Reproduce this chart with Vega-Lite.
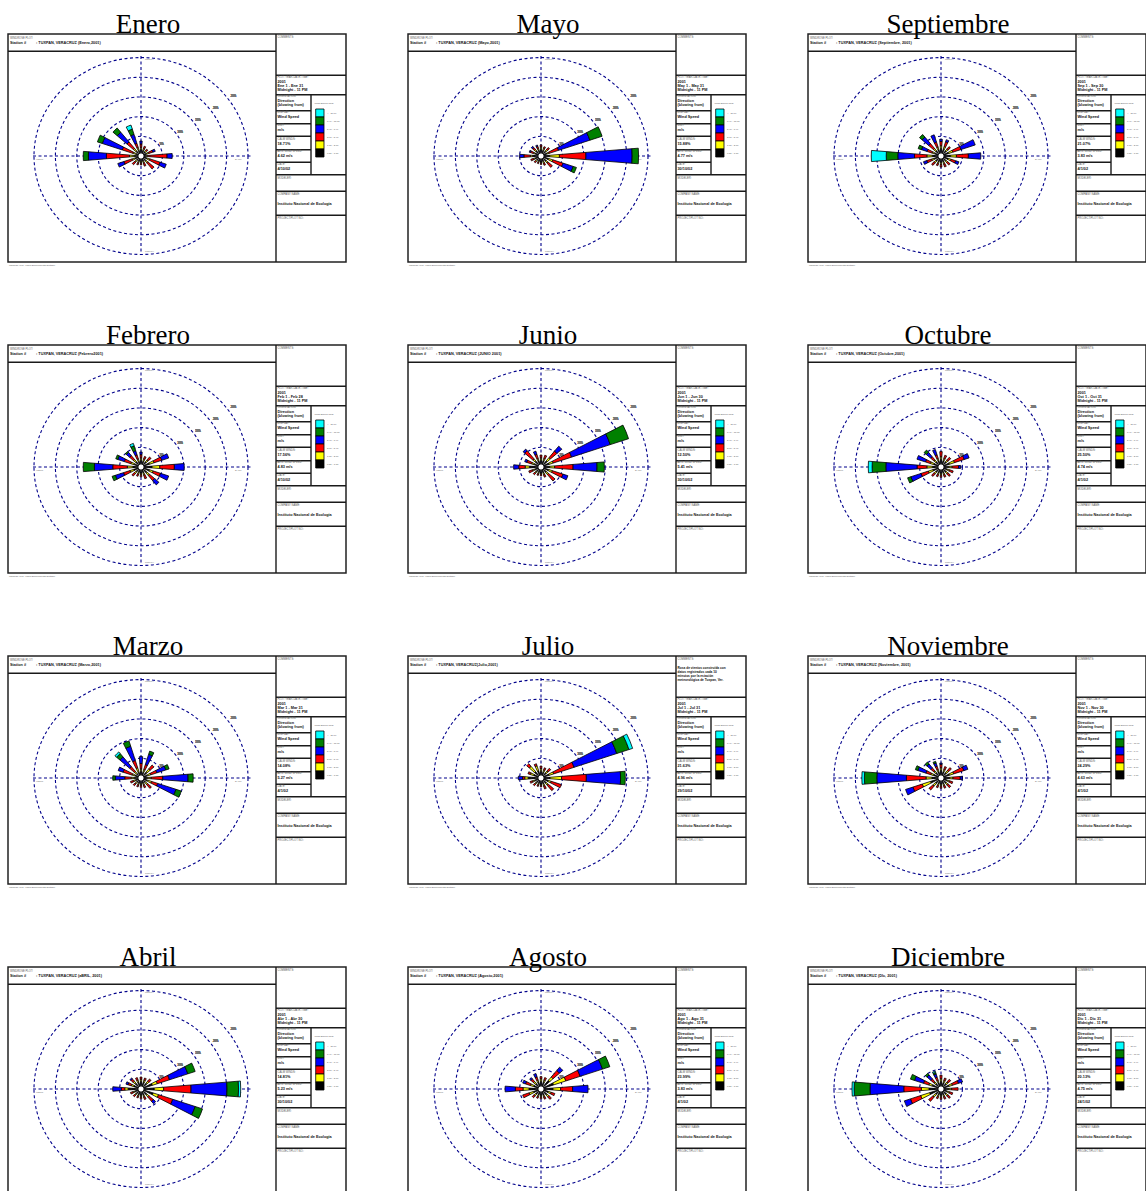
{
"$schema":"https://vega.github.io/schema/vega-lite/v6.json",
"padding":0,
"background":"white",
"bounds":"flush",
"data":{"values":[
{"k":"i","m":1,"t":"Enero","h":": TUXPAN, VERACRUZ (Enero,2001)","dr":"Ene 1 - Ene 31","cw":"18.71%","av":"4.62 m/s","dt":"4/10/02","cm":"","rings":[5,10,15,20,25]},
{"k":"i","m":2,"t":"Febrero","h":": TUXPAN, VERACRUZ (Febrero2001)","dr":"Feb 1 - Feb 28","cw":"17.56%","av":"4.83 m/s","dt":"4/10/02","cm":"","rings":[5,10,15,20,25]},
{"k":"i","m":3,"t":"Marzo","h":": TUXPAN, VERACRUZ (Marzo,2001)","dr":"Mar 1 - Mar 31","cw":"14.08%","av":"5.27 m/s","dt":"4/1/02","cm":"","rings":[5,10,15,20,25]},
{"k":"i","m":4,"t":"Abril","h":": TUXPAN, VERACRUZ (aBRIL, 2001)","dr":"Abr 1 - Abr 30","cw":"14.81%","av":"5.23 m/s","dt":"30/10/02","cm":"","rings":[5,10,15,20,25]},
{"k":"i","m":5,"t":"Mayo","h":": TUXPAN, VERACRUZ (Mayo,2001)","dr":"May 1 - May 31","cw":"15.88%","av":"4.77 m/s","dt":"30/10/02","cm":"","rings":[5,10,15,20,25]},
{"k":"i","m":6,"t":"Junio","h":": TUXPAN, VERACRUZ (JUNIO 2001)","dr":"Jun 1 - Jun 30","cw":"12.50%","av":"5.41 m/s","dt":"30/10/02","cm":"","rings":[5,10,15,20,25]},
{"k":"i","m":7,"t":"Julio","h":": TUXPAN, VERACRUZ(Julio,2001)","dr":"Jul 1 - Jul 31","cw":"21.63%","av":"4.96 m/s","dt":"29/10/02","cm":["Rosa de vientos construída con","datos registrados cada 10","minutos por la estación","meteorológica de Tuxpan, Ver."],"rings":[5,10,15,20,25]},
{"k":"i","m":8,"t":"Agosto","h":": TUXPAN, VERACRUZ (Agosto,2001)","dr":"Ago 1 - Ago 31","cw":"23.99%","av":"3.83 m/s","dt":"4/1/02","cm":"","rings":[5,10,15,20,25]},
{"k":"i","m":9,"t":"Septiembre","h":": TUXPAN, VERACRUZ (Septiembre, 2001)","dr":"Sep 1 - Sep 30","cw":"21.07%","av":"3.83 m/s","dt":"4/1/02","cm":"","rings":[5,10,15,20,25]},
{"k":"i","m":10,"t":"Octubre","h":": TUXPAN, VERACRUZ (Octubre,2001)","dr":"Oct 1 - Oct 31","cw":"25.50%","av":"4.74 m/s","dt":"4/1/02","cm":"","rings":[5,10,15,20,25]},
{"k":"i","m":11,"t":"Noviembre","h":": TUXPAN, VERACRUZ (Noviembre, 2001)","dr":"Nov 1 - Nov 30","cw":"24.29%","av":"4.63 m/s","dt":"4/1/02","cm":"","rings":[5,10,15,20,25]},
{"k":"i","m":12,"t":"Diciembre","h":": TUXPAN, VERACRUZ (DIc, 2001)","dr":"Dic 1 - Dic 31","cw":"20.13%","av":"4.75 m/s","dt":"24/1/02","cm":"","rings":[5,10,15,20,25]},

{"k":"p","m":1,"d":0,"v":[1.5,0.5,0.8,0.7],"c":[1,2,3,4]},
{"k":"p","m":1,"d":22.5,"v":[1.4,0.4,0.6],"c":[1,2,3]},
{"k":"p","m":1,"d":45,"v":[1.3,0.4,0.4],"c":[1,2,3]},
{"k":"p","m":1,"d":67.5,"v":[1.4,0.5,1.0,0.6],"c":[1,2,3,4]},
{"k":"p","m":1,"d":90,"v":[1.0,0.5,4.6,1.2],"c":[1,2,3,4]},
{"k":"p","m":1,"d":112.5,"v":[1.5,0.7,2.5,1.5],"c":[1,2,3,4]},
{"k":"p","m":1,"d":135,"v":[1.5,0.6,1.9],"c":[1,2,3]},
{"k":"p","m":1,"d":157.5,"v":[1.3,0.4,0.8],"c":[1,2,3]},
{"k":"p","m":1,"d":180,"v":[1.3,0.4,0.4],"c":[1,2,3]},
{"k":"p","m":1,"d":202.5,"v":[1.3,0.4,0.5],"c":[1,2,3]},
{"k":"p","m":1,"d":225,"v":[1.4,0.5,0.8],"c":[1,2,3]},
{"k":"p","m":1,"d":247.5,"v":[1.5,0.7,2.0,1.5],"c":[1,2,3,4]},
{"k":"p","m":1,"d":270,"v":[1.5,1.2,5.4,4.2,1.2],"c":[1,2,3,4,5]},
{"k":"p","m":1,"d":292.5,"v":[1.2,0.8,2.6,4.9,1.2],"c":[1,2,3,4,5]},
{"k":"p","m":1,"d":315,"v":[1.5,0.8,2.0,3.0,1.3],"c":[1,2,3,4,5]},
{"k":"p","m":1,"d":337.5,"v":[1.5,0.6,1.0,2.2,1.3,1.0],"c":[1,2,3,4,5,6]},

{"k":"p","m":2,"d":0,"v":[1.6,0.5,0.8,0.6],"c":[1,2,3,4]},
{"k":"p","m":2,"d":22.5,"v":[1.5,0.5,0.6],"c":[1,2,3]},
{"k":"p","m":2,"d":45,"v":[1.6,0.6,0.9],"c":[1,2,3]},
{"k":"p","m":2,"d":67.5,"v":[2.1,1.1,1.9,1.7],"c":[1,2,3,4]},
{"k":"p","m":2,"d":90,"v":[2.6,1.8,3.4,2.3],"c":[1,2,3,4]},
{"k":"p","m":2,"d":112.5,"v":[2.1,0.9,1.8,2.0],"c":[1,2,3,4]},
{"k":"p","m":2,"d":135,"v":[1.8,0.8,1.6,1.3],"c":[1,2,3,4]},
{"k":"p","m":2,"d":157.5,"v":[1.5,0.5,0.9],"c":[1,2,3]},
{"k":"p","m":2,"d":180,"v":[1.4,0.4,0.5],"c":[1,2,3]},
{"k":"p","m":2,"d":202.5,"v":[1.4,0.4,0.5],"c":[1,2,3]},
{"k":"p","m":2,"d":225,"v":[1.5,0.5,0.8],"c":[1,2,3]},
{"k":"p","m":2,"d":247.5,"v":[1.8,0.9,1.6,2.0,0.8],"c":[1,2,3,4,5]},
{"k":"p","m":2,"d":270,"v":[1.9,1.3,3.4,4.3,2.6],"c":[1,2,3,4,5]},
{"k":"p","m":2,"d":292.5,"v":[1.7,0.8,1.6,1.6,0.5],"c":[1,2,3,4,5]},
{"k":"p","m":2,"d":315,"v":[1.6,0.7,1.2,1.0,0.3],"c":[1,2,3,4,5]},
{"k":"p","m":2,"d":337.5,"v":[1.4,0.6,1.0,1.0,1.2,0.6],"c":[1,2,3,4,5,6]},

{"k":"p","m":3,"d":0,"v":[1.5,0.6,1.3,1.6],"c":[1,2,3,4]},
{"k":"p","m":3,"d":22.5,"v":[1.5,0.6,1.2,2.5,0.8],"c":[1,2,3,4,5]},
{"k":"p","m":3,"d":45,"v":[1.8,1.0,1.2],"c":[1,2,3]},
{"k":"p","m":3,"d":67.5,"v":[1.6,0.8,1.5,2.2,0.8],"c":[1,2,3,4,5]},
{"k":"p","m":3,"d":90,"v":[1.5,0.9,2.7,5.9,1.2],"c":[1,2,3,4,5]},
{"k":"p","m":3,"d":112.5,"v":[1.6,1.0,1.5,4.5,1.3],"c":[1,2,3,4,5]},
{"k":"p","m":3,"d":135,"v":[1.4,0.6,1.2],"c":[1,2,3]},
{"k":"p","m":3,"d":157.5,"v":[1.3,0.4,0.7],"c":[1,2,3]},
{"k":"p","m":3,"d":180,"v":[1.3,0.4,0.5],"c":[1,2,3]},
{"k":"p","m":3,"d":202.5,"v":[1.3,0.4,0.5],"c":[1,2,3]},
{"k":"p","m":3,"d":225,"v":[1.4,0.4,0.6],"c":[1,2,3]},
{"k":"p","m":3,"d":247.5,"v":[1.4,0.5,0.7],"c":[1,2,3]},
{"k":"p","m":3,"d":270,"v":[1.5,0.8,1.5,2.2,0.6],"c":[1,2,3,4,5]},
{"k":"p","m":3,"d":292.5,"v":[1.5,0.7,2.2,1.2],"c":[1,2,3,4]},
{"k":"p","m":3,"d":315,"v":[1.4,0.6,1.5,3.0,1.0,0.5],"c":[1,2,3,4,5,6]},
{"k":"p","m":3,"d":337.5,"v":[1.5,1.0,1.8,3.5,1.3],"c":[1,2,3,4,5]},

{"k":"p","m":4,"d":0,"v":[1.8,0.5,0.5],"c":[1,2,3]},
{"k":"p","m":4,"d":22.5,"v":[1.7,0.5,0.5],"c":[1,2,3]},
{"k":"p","m":4,"d":45,"v":[1.8,0.6,0.7],"c":[1,2,3]},
{"k":"p","m":4,"d":67.5,"v":[2.8,1.2,3.0,4.5,1.8],"c":[1,2,3,4,5]},
{"k":"p","m":4,"d":90,"v":[3.1,2.2,6.4,8.4,2.7,0.5],"c":[1,2,3,4,5,6]},
{"k":"p","m":4,"d":112.5,"v":[3.0,1.3,3.5,5.5,1.8],"c":[1,2,3,4,5]},
{"k":"p","m":4,"d":135,"v":[1.8,0.6,1.4,0.7],"c":[1,2,3,4]},
{"k":"p","m":4,"d":157.5,"v":[1.6,0.4,0.6],"c":[1,2,3]},
{"k":"p","m":4,"d":180,"v":[1.5,0.4,0.4],"c":[1,2,3]},
{"k":"p","m":4,"d":202.5,"v":[1.5,0.3,0.4],"c":[1,2,3]},
{"k":"p","m":4,"d":225,"v":[1.5,0.4,0.5],"c":[1,2,3]},
{"k":"p","m":4,"d":247.5,"v":[1.6,0.4,0.6],"c":[1,2,3]},
{"k":"p","m":4,"d":270,"v":[3.0,0.8,0.8,2.0],"c":[1,2,3,4]},
{"k":"p","m":4,"d":292.5,"v":[1.8,0.6,0.8,0.5],"c":[1,2,3,4]},
{"k":"p","m":4,"d":315,"v":[1.8,0.6,0.7,0.3],"c":[1,2,3,4]},
{"k":"p","m":4,"d":337.5,"v":[1.7,0.5,0.6],"c":[1,2,3]},

{"k":"p","m":5,"d":0,"v":[1.6,0.5,0.5],"c":[1,2,3]},
{"k":"p","m":5,"d":22.5,"v":[1.5,0.4,0.4],"c":[1,2,3]},
{"k":"p","m":5,"d":45,"v":[1.5,0.5,0.6],"c":[1,2,3]},
{"k":"p","m":5,"d":67.5,"v":[1.5,0.5,2.3,7.7,3.0],"c":[1,2,3,4,5]},
{"k":"p","m":5,"d":90,"v":[2.0,2.3,6.2,10.8,1.5],"c":[1,2,3,4,5]},
{"k":"p","m":5,"d":112.5,"v":[1.9,1.0,2.5,2.5,0.8],"c":[1,2,3,4,5]},
{"k":"p","m":5,"d":135,"v":[1.6,0.6,1.3],"c":[1,2,3]},
{"k":"p","m":5,"d":157.5,"v":[1.4,0.4,0.5],"c":[1,2,3]},
{"k":"p","m":5,"d":180,"v":[1.4,0.3,0.3],"c":[1,2,3]},
{"k":"p","m":5,"d":202.5,"v":[1.3,0.3,0.3],"c":[1,2,3]},
{"k":"p","m":5,"d":225,"v":[1.4,0.3,0.4],"c":[1,2,3]},
{"k":"p","m":5,"d":247.5,"v":[1.5,0.4,0.6],"c":[1,2,3]},
{"k":"p","m":5,"d":270,"v":[2.0,0.5,1.5,1.0],"c":[1,2,3,4]},
{"k":"p","m":5,"d":292.5,"v":[1.5,0.4,0.7,0.3],"c":[1,2,3,4]},
{"k":"p","m":5,"d":315,"v":[1.6,0.4,0.6,0.4],"c":[1,2,3,4]},
{"k":"p","m":5,"d":337.5,"v":[1.5,0.4,0.5,0.3],"c":[1,2,3,4]},

{"k":"p","m":6,"d":0,"v":[1.6,0.5,0.7],"c":[1,2,3]},
{"k":"p","m":6,"d":22.5,"v":[1.6,0.5,0.8],"c":[1,2,3]},
{"k":"p","m":6,"d":45,"v":[1.9,1.0,2.0,1.5],"c":[1,2,3,4]},
{"k":"p","m":6,"d":67.5,"v":[2.0,1.0,4.5,9.5,4.5],"c":[1,2,3,4,5]},
{"k":"p","m":6,"d":90,"v":[2.0,1.2,4.3,5.6,1.7],"c":[1,2,3,4,5]},
{"k":"p","m":6,"d":112.5,"v":[1.9,0.9,2.6,1.2],"c":[1,2,3,4]},
{"k":"p","m":6,"d":135,"v":[1.7,0.6,2.0],"c":[1,2,3]},
{"k":"p","m":6,"d":157.5,"v":[1.5,0.4,0.6],"c":[1,2,3]},
{"k":"p","m":6,"d":180,"v":[1.4,0.3,0.4],"c":[1,2,3]},
{"k":"p","m":6,"d":202.5,"v":[1.4,0.3,0.4],"c":[1,2,3]},
{"k":"p","m":6,"d":225,"v":[1.5,0.4,0.5],"c":[1,2,3]},
{"k":"p","m":6,"d":247.5,"v":[1.6,0.5,0.9],"c":[1,2,3]},
{"k":"p","m":6,"d":270,"v":[2.7,1.0,1.5,1.2],"c":[1,2,3,4]},
{"k":"p","m":6,"d":292.5,"v":[1.7,0.6,1.2,0.5],"c":[1,2,3,4]},
{"k":"p","m":6,"d":315,"v":[1.8,0.7,2.5,0.5],"c":[1,2,3,4]},
{"k":"p","m":6,"d":337.5,"v":[1.6,0.5,1.0,0.8],"c":[1,2,3,4]},

{"k":"p","m":7,"d":0,"v":[1.6,0.6,0.6],"c":[1,2,3]},
{"k":"p","m":7,"d":22.5,"v":[1.5,0.5,0.5],"c":[1,2,3]},
{"k":"p","m":7,"d":45,"v":[1.6,0.6,0.8],"c":[1,2,3]},
{"k":"p","m":7,"d":67.5,"v":[2.0,1.1,5.0,10.5,3.0,0.9],"c":[1,2,3,4,5,6]},
{"k":"p","m":7,"d":90,"v":[2.1,2.7,5.8,8.0,1.1],"c":[1,2,3,4,5]},
{"k":"p","m":7,"d":112.5,"v":[1.8,0.7,2.5],"c":[1,2,3]},
{"k":"p","m":7,"d":135,"v":[1.6,0.6,1.7],"c":[1,2,3]},
{"k":"p","m":7,"d":157.5,"v":[1.5,0.5,0.7],"c":[1,2,3]},
{"k":"p","m":7,"d":180,"v":[1.4,0.3,0.4],"c":[1,2,3]},
{"k":"p","m":7,"d":202.5,"v":[1.4,0.3,0.4],"c":[1,2,3]},
{"k":"p","m":7,"d":225,"v":[1.5,0.4,0.5],"c":[1,2,3]},
{"k":"p","m":7,"d":247.5,"v":[1.6,0.5,0.6],"c":[1,2,3]},
{"k":"p","m":7,"d":270,"v":[3.0,0.8,0.5,1.0],"c":[1,2,3,4]},
{"k":"p","m":7,"d":292.5,"v":[1.8,0.8,0.6],"c":[1,2,3]},
{"k":"p","m":7,"d":315,"v":[2.0,1.6,0.8],"c":[1,2,3]},
{"k":"p","m":7,"d":337.5,"v":[1.8,1.2,0.5],"c":[1,2,3]},

{"k":"p","m":8,"d":0,"v":[1.8,0.6,0.5],"c":[1,2,3]},
{"k":"p","m":8,"d":22.5,"v":[1.7,0.5,0.6],"c":[1,2,3]},
{"k":"p","m":8,"d":45,"v":[2.7,1.0,2.0,1.0],"c":[1,2,3,4]},
{"k":"p","m":8,"d":67.5,"v":[3.1,3.0,3.5,5.5,1.8],"c":[1,2,3,4,5]},
{"k":"p","m":8,"d":90,"v":[2.8,1.8,2.8,3.6],"c":[1,2,3,4]},
{"k":"p","m":8,"d":112.5,"v":[1.8,0.7,0.9],"c":[1,2,3]},
{"k":"p","m":8,"d":135,"v":[1.8,0.6,0.8],"c":[1,2,3]},
{"k":"p","m":8,"d":157.5,"v":[1.6,0.4,0.5],"c":[1,2,3]},
{"k":"p","m":8,"d":180,"v":[1.5,0.4,0.4],"c":[1,2,3]},
{"k":"p","m":8,"d":202.5,"v":[1.5,0.4,0.4],"c":[1,2,3]},
{"k":"p","m":8,"d":225,"v":[1.6,0.5,0.6],"c":[1,2,3]},
{"k":"p","m":8,"d":247.5,"v":[1.9,1.0,1.6],"c":[1,2,3]},
{"k":"p","m":8,"d":270,"v":[2.8,1.4,1.8,2.4],"c":[1,2,3,4]},
{"k":"p","m":8,"d":292.5,"v":[1.8,0.8,1.2,0.7],"c":[1,2,3,4]},
{"k":"p","m":8,"d":315,"v":[1.7,0.6,0.8,0.4],"c":[1,2,3,4]},
{"k":"p","m":8,"d":337.5,"v":[1.7,0.5,0.8,0.8],"c":[1,2,3,4]},

{"k":"p","m":9,"d":0,"v":[1.8,0.6,1.0,0.5],"c":[1,2,3,4]},
{"k":"p","m":9,"d":22.5,"v":[1.7,0.6,1.2,0.5],"c":[1,2,3,4]},
{"k":"p","m":9,"d":45,"v":[1.6,0.5,0.8],"c":[1,2,3]},
{"k":"p","m":9,"d":67.5,"v":[1.9,1.0,2.0,3.5],"c":[1,2,3,4]},
{"k":"p","m":9,"d":90,"v":[2.2,1.4,2.8,2.9],"c":[1,2,3,4]},
{"k":"p","m":9,"d":112.5,"v":[1.8,0.7,1.1,0.8],"c":[1,2,3,4]},
{"k":"p","m":9,"d":135,"v":[1.5,0.5,0.8],"c":[1,2,3]},
{"k":"p","m":9,"d":157.5,"v":[1.5,0.5,0.7],"c":[1,2,3]},
{"k":"p","m":9,"d":180,"v":[1.5,0.5,0.6],"c":[1,2,3]},
{"k":"p","m":9,"d":202.5,"v":[1.5,0.4,0.5],"c":[1,2,3]},
{"k":"p","m":9,"d":225,"v":[1.6,0.5,0.8],"c":[1,2,3]},
{"k":"p","m":9,"d":247.5,"v":[1.7,0.6,1.2,0.8],"c":[1,2,3,4]},
{"k":"p","m":9,"d":270,"v":[2.0,1.3,2.9,3.9,2.7,3.5],"c":[1,2,3,4,5,6]},
{"k":"p","m":9,"d":292.5,"v":[1.6,0.6,1.2,1.4,0.8],"c":[1,2,3,4,5]},
{"k":"p","m":9,"d":315,"v":[1.6,0.7,1.5,2.0,0.8],"c":[1,2,3,4,5]},
{"k":"p","m":9,"d":337.5,"v":[1.6,0.6,1.2,1.8],"c":[1,2,3,4]},

{"k":"p","m":10,"d":0,"v":[1.8,0.6,1.2],"c":[1,2,3]},
{"k":"p","m":10,"d":22.5,"v":[1.6,0.5,0.8],"c":[1,2,3]},
{"k":"p","m":10,"d":45,"v":[1.6,0.5,0.9],"c":[1,2,3]},
{"k":"p","m":10,"d":67.5,"v":[2.1,1.2,2.4,1.2],"c":[1,2,3,4]},
{"k":"p","m":10,"d":90,"v":[1.8,0.8,1.5,0.5],"c":[1,2,3,4]},
{"k":"p","m":10,"d":112.5,"v":[1.6,0.5,0.9],"c":[1,2,3]},
{"k":"p","m":10,"d":135,"v":[1.6,0.5,0.8],"c":[1,2,3]},
{"k":"p","m":10,"d":157.5,"v":[1.5,0.4,0.6],"c":[1,2,3]},
{"k":"p","m":10,"d":180,"v":[1.5,0.4,0.5],"c":[1,2,3]},
{"k":"p","m":10,"d":202.5,"v":[1.5,0.4,0.5],"c":[1,2,3]},
{"k":"p","m":10,"d":225,"v":[1.6,0.5,0.8],"c":[1,2,3]},
{"k":"p","m":10,"d":247.5,"v":[2.0,1.1,1.8,2.5,0.8],"c":[1,2,3,4,5]},
{"k":"p","m":10,"d":270,"v":[2.0,1.3,2.3,7.3,3.2,0.9],"c":[1,2,3,4,5,6]},
{"k":"p","m":10,"d":292.5,"v":[1.8,0.8,1.2,2.1],"c":[1,2,3,4]},
{"k":"p","m":10,"d":315,"v":[1.6,0.6,1.0,1.3,0.7],"c":[1,2,3,4,5]},
{"k":"p","m":10,"d":337.5,"v":[1.6,0.5,0.9,1.3],"c":[1,2,3,4]},

{"k":"p","m":11,"d":0,"v":[1.8,0.6,0.8,0.3],"c":[1,2,3,4]},
{"k":"p","m":11,"d":22.5,"v":[1.6,0.5,0.7],"c":[1,2,3]},
{"k":"p","m":11,"d":45,"v":[1.7,0.6,0.9],"c":[1,2,3]},
{"k":"p","m":11,"d":67.5,"v":[2.1,1.0,2.5,1.0],"c":[1,2,3,4]},
{"k":"p","m":11,"d":90,"v":[2.0,0.8,1.7,0.5],"c":[1,2,3,4]},
{"k":"p","m":11,"d":112.5,"v":[1.6,0.5,0.8],"c":[1,2,3]},
{"k":"p","m":11,"d":135,"v":[1.6,0.5,0.9],"c":[1,2,3]},
{"k":"p","m":11,"d":157.5,"v":[1.5,0.4,0.6],"c":[1,2,3]},
{"k":"p","m":11,"d":180,"v":[1.5,0.4,0.5],"c":[1,2,3]},
{"k":"p","m":11,"d":202.5,"v":[1.5,0.4,0.5],"c":[1,2,3]},
{"k":"p","m":11,"d":225,"v":[1.7,0.8,1.2],"c":[1,2,3]},
{"k":"p","m":11,"d":247.5,"v":[2.6,2.0,2.3,1.8],"c":[1,2,3,4]},
{"k":"p","m":11,"d":270,"v":[2.1,1.4,4.6,6.9,2.9,0.6],"c":[1,2,3,4,5,6]},
{"k":"p","m":11,"d":292.5,"v":[1.9,0.6,1.2,2.0,0.6],"c":[1,2,3,4,5]},
{"k":"p","m":11,"d":315,"v":[1.7,0.5,0.9,1.2,0.6],"c":[1,2,3,4,5]},
{"k":"p","m":11,"d":337.5,"v":[1.6,0.5,0.8,0.8,0.4],"c":[1,2,3,4,5]},

{"k":"p","m":12,"d":0,"v":[1.8,0.6,0.8],"c":[1,2,3]},
{"k":"p","m":12,"d":22.5,"v":[1.6,0.5,0.6],"c":[1,2,3]},
{"k":"p","m":12,"d":45,"v":[1.7,0.5,0.8],"c":[1,2,3]},
{"k":"p","m":12,"d":67.5,"v":[2.0,0.8,1.5,1.0],"c":[1,2,3,4]},
{"k":"p","m":12,"d":90,"v":[1.8,0.7,1.5],"c":[1,2,3]},
{"k":"p","m":12,"d":112.5,"v":[1.6,0.5,0.8],"c":[1,2,3]},
{"k":"p","m":12,"d":135,"v":[1.6,0.5,0.8],"c":[1,2,3]},
{"k":"p","m":12,"d":157.5,"v":[1.5,0.4,0.6],"c":[1,2,3]},
{"k":"p","m":12,"d":180,"v":[1.5,0.4,0.5],"c":[1,2,3]},
{"k":"p","m":12,"d":202.5,"v":[1.5,0.4,0.5],"c":[1,2,3]},
{"k":"p","m":12,"d":225,"v":[1.7,0.8,1.3],"c":[1,2,3]},
{"k":"p","m":12,"d":247.5,"v":[2.8,2.2,2.5,1.5],"c":[1,2,3,4]},
{"k":"p","m":12,"d":270,"v":[2.8,1.8,4.1,7.9,3.7,0.5],"c":[1,2,3,4,5,6]},
{"k":"p","m":12,"d":292.5,"v":[2.2,0.8,1.3,2.2,1.0],"c":[1,2,3,4,5]},
{"k":"p","m":12,"d":315,"v":[1.7,0.5,0.9,1.2,0.5],"c":[1,2,3,4,5]},
{"k":"p","m":12,"d":337.5,"v":[1.6,0.5,0.8,0.8,0.4,0.3],"c":[1,2,3,4,5,6]}
]},
"facet":{"field":"m","type":"ordinal","sort":[1,5,9,2,6,10,3,7,11,4,8,12],"header":{"title":null,"labelExpr":"''","labelFontSize":1,"labelPadding":0}},
"columns":3,
"spacing":{"row":56,"column":54},
"spec":{
"width":346,"height":255,
"layer":[
{"transform":[{"filter":"datum.k=='i'"}],
 "layer":[
  {"mark":{"type":"rect","fill":"#ffffff","stroke":"#222222","strokeWidth":1.5},
   "encoding":{"x":{"datum":8,"type":"quantitative","scale":{"domain":[0,346],"nice":false,"zero":false}},"x2":{"datum":346},
               "y":{"datum":33,"type":"quantitative","scale":{"domain":[0,255],"nice":false,"zero":false,"reverse":true}},"y2":{"datum":261}}},
  {"transform":[{"flatten":["rings"]}],
   "mark":{"type":"point","filled":false,"shape":"M 1 0 C 1 0.508 0.552 0.92 0 0.92 C -0.552 0.92 -1 0.508 -1 0 C -1 -0.508 -0.552 -0.92 0 -0.92 C 0.552 -0.92 1 -0.508 1 0 Z","stroke":"#00008b","strokeWidth":1.1,"strokeDash":[3,2.5],"opacity":1},
   "encoding":{"x":{"datum":141,"type":"quantitative"},"y":{"datum":155,"type":"quantitative"},
     "size":{"field":"rings","type":"quantitative","legend":null,"scale":{"type":"pow","exponent":2,"domain":[0,25],"range":[0,45796]}}}},
  {"mark":{"type":"rule","stroke":"#00008b","strokeWidth":1.1,"strokeDash":[3,2.5]},
   "encoding":{"x":{"datum":33,"type":"quantitative"},"x2":{"datum":251},"y":{"datum":155,"type":"quantitative"}}},
  {"mark":{"type":"rule","stroke":"#00008b","strokeWidth":1.1,"strokeDash":[3,2.5]},
   "encoding":{"x":{"datum":141,"type":"quantitative"},"y":{"datum":55,"type":"quantitative"},"y2":{"datum":252}}},
  {"mark":{"type":"text","fontSize":2.5,"fill":"#777777"},"encoding":{"x":{"datum":145,"type":"quantitative"},"y":{"datum":58,"type":"quantitative"},"text":{"value":"NORTH"}}},
  {"mark":{"type":"text","fontSize":2.5,"fill":"#777777"},"encoding":{"x":{"datum":145,"type":"quantitative"},"y":{"datum":250,"type":"quantitative"},"text":{"value":"SOUTH"}}},
  {"mark":{"type":"text","fontSize":2.5,"fill":"#777777"},"encoding":{"x":{"datum":36,"type":"quantitative"},"y":{"datum":158.5,"type":"quantitative"},"text":{"value":"WEST"}}},
  {"mark":{"type":"text","fontSize":2.5,"fill":"#777777"},"encoding":{"x":{"datum":235,"type":"quantitative"},"y":{"datum":158.5,"type":"quantitative"},"text":{"value":"EAST"}}},
  {"transform":[{"flatten":["rings"]},{"calculate":"datum.rings+'%'","as":"rl"}],
   "mark":{"type":"text","theta":0.98,"dx":1,"fontSize":2.6,"fill":"#777777"},
   "encoding":{"x":{"datum":141,"type":"quantitative"},"y":{"datum":155,"type":"quantitative"},
     "radius":{"field":"rings","type":"quantitative"},"text":{"field":"rl"}}},
  {"mark":"rule","encoding":{"x":{"datum":8,"type":"quantitative"},"x2":{"datum":276},"y":{"datum":50.3,"type":"quantitative"}}},
  {"mark":"rule","encoding":{"x":{"datum":276,"type":"quantitative"},"y":{"datum":33,"type":"quantitative"},"y2":{"datum":261}}},
  {"mark":"rule","encoding":{"x":{"datum":276,"type":"quantitative"},"x2":{"datum":346},"y":{"datum":74.3,"type":"quantitative"}}},
  {"mark":"rule","encoding":{"x":{"datum":276,"type":"quantitative"},"x2":{"datum":346},"y":{"datum":93.7,"type":"quantitative"}}},
  {"mark":"rule","encoding":{"x":{"datum":276,"type":"quantitative"},"x2":{"datum":346},"y":{"datum":173.7,"type":"quantitative"}}},
  {"mark":"rule","encoding":{"x":{"datum":276,"type":"quantitative"},"x2":{"datum":346},"y":{"datum":190.3,"type":"quantitative"}}},
  {"mark":"rule","encoding":{"x":{"datum":276,"type":"quantitative"},"x2":{"datum":346},"y":{"datum":214.3,"type":"quantitative"}}},
  {"mark":"rule","encoding":{"x":{"datum":311,"type":"quantitative"},"y":{"datum":93.7,"type":"quantitative"},"y2":{"datum":173.7}}},
  {"mark":"rule","encoding":{"x":{"datum":276,"type":"quantitative"},"x2":{"datum":311},"y":{"datum":109.7,"type":"quantitative"}}},
  {"mark":"rule","encoding":{"x":{"datum":276,"type":"quantitative"},"x2":{"datum":311},"y":{"datum":122.7,"type":"quantitative"}}},
  {"mark":"rule","encoding":{"x":{"datum":276,"type":"quantitative"},"x2":{"datum":311},"y":{"datum":135.3,"type":"quantitative"}}},
  {"mark":"rule","encoding":{"x":{"datum":276,"type":"quantitative"},"x2":{"datum":311},"y":{"datum":148.7,"type":"quantitative"}}},
  {"mark":"rule","encoding":{"x":{"datum":276,"type":"quantitative"},"x2":{"datum":311},"y":{"datum":161.3,"type":"quantitative"}}},
  {"mark":{"type":"rect","fill":"#00ffff","stroke":"#000000","strokeWidth":0.8},"encoding":{"x":{"datum":315.7,"type":"quantitative"},"x2":{"datum":324},"y":{"datum":108,"type":"quantitative"},"y2":{"datum":116}}},
  {"mark":{"type":"rect","fill":"#008000","stroke":"#000000","strokeWidth":0.8},"encoding":{"x":{"datum":315.7,"type":"quantitative"},"x2":{"datum":324},"y":{"datum":116,"type":"quantitative"},"y2":{"datum":124}}},
  {"mark":{"type":"rect","fill":"#0000ff","stroke":"#000000","strokeWidth":0.8},"encoding":{"x":{"datum":315.7,"type":"quantitative"},"x2":{"datum":324},"y":{"datum":124,"type":"quantitative"},"y2":{"datum":132}}},
  {"mark":{"type":"rect","fill":"#ff0000","stroke":"#000000","strokeWidth":0.8},"encoding":{"x":{"datum":315.7,"type":"quantitative"},"x2":{"datum":324},"y":{"datum":132,"type":"quantitative"},"y2":{"datum":140}}},
  {"mark":{"type":"rect","fill":"#ffff00","stroke":"#000000","strokeWidth":0.8},"encoding":{"x":{"datum":315.7,"type":"quantitative"},"x2":{"datum":324},"y":{"datum":140,"type":"quantitative"},"y2":{"datum":148}}},
  {"mark":{"type":"rect","fill":"#000000","stroke":"#000000","strokeWidth":0.8},"encoding":{"x":{"datum":315.7,"type":"quantitative"},"x2":{"datum":324},"y":{"datum":148,"type":"quantitative"},"y2":{"datum":156}}},
  {"mark":{"type":"text","baseline":"alphabetic","lineHeight":8,"fontSize":2.4},"encoding":{"x":{"datum":327,"type":"quantitative"},"y":{"datum":113,"type":"quantitative"},"text":{"value":[">= 11.06","8.49 - 11.06","5.40 - 8.49","3.60 - 5.40","1.80 - 3.60","0.51 - 1.80"]}}},
  {"mark":{"type":"text","fontSize":2.4},"encoding":{"x":{"datum":314.5,"type":"quantitative"},"y":{"datum":102,"type":"quantitative"},"text":{"value":"Wind Speed (m/s)"}}},
  {"mark":{"type":"text"},"encoding":{"x":{"datum":10,"type":"quantitative"},"y":{"datum":37,"type":"quantitative"},"text":{"value":"WINDROSE PLOT:"}}},
  {"mark":{"type":"text","fontWeight":"bold","fontSize":3.8,"fill":"#111111"},"encoding":{"x":{"datum":10,"type":"quantitative"},"y":{"datum":41.5,"type":"quantitative"},"text":{"value":"Station #"}}},
  {"mark":{"type":"text","fontWeight":"bold","fontSize":3.8,"fill":"#111111"},"encoding":{"x":{"datum":36,"type":"quantitative"},"y":{"datum":41.5,"type":"quantitative"},"text":{"field":"h"}}},
  {"mark":{"type":"text"},"encoding":{"x":{"datum":277.5,"type":"quantitative"},"y":{"datum":36.5,"type":"quantitative"},"text":{"value":"COMMENTS:"}}},
  {"mark":{"type":"text","fontWeight":"bold","fontSize":3.2,"fill":"#111111","baseline":"alphabetic","lineHeight":4},"encoding":{"x":{"datum":277.5,"type":"quantitative"},"y":{"datum":46,"type":"quantitative"},"text":{"field":"cm"}}},
  {"mark":{"type":"text"},"encoding":{"x":{"datum":277.5,"type":"quantitative"},"y":{"datum":76.4,"type":"quantitative"},"text":{"value":"PLOT YEAR-DATE-TIME:"}}},
  {"mark":{"type":"text","fontWeight":"bold","fontSize":3.8,"fill":"#111111"},"encoding":{"x":{"datum":277.5,"type":"quantitative"},"y":{"datum":80.7,"type":"quantitative"},"text":{"value":"2001"}}},
  {"mark":{"type":"text","fontWeight":"bold","fontSize":3.8,"fill":"#111111"},"encoding":{"x":{"datum":277.5,"type":"quantitative"},"y":{"datum":84.8,"type":"quantitative"},"text":{"field":"dr"}}},
  {"mark":{"type":"text","fontWeight":"bold","fontSize":3.8,"fill":"#111111"},"encoding":{"x":{"datum":277.5,"type":"quantitative"},"y":{"datum":89,"type":"quantitative"},"text":{"value":"Midnight - 11 PM"}}},
  {"mark":{"type":"text"},"encoding":{"x":{"datum":277.5,"type":"quantitative"},"y":{"datum":95.4,"type":"quantitative"},"text":{"value":"ORIENTATION:"}}},
  {"mark":{"type":"text","fontWeight":"bold","fontSize":3.8,"fill":"#111111","baseline":"alphabetic","lineHeight":4},"encoding":{"x":{"datum":277.5,"type":"quantitative"},"y":{"datum":101.3,"type":"quantitative"},"text":{"value":["Direction","(blowing from)"]}}},
  {"mark":{"type":"text"},"encoding":{"x":{"datum":277.5,"type":"quantitative"},"y":{"datum":111.4,"type":"quantitative"},"text":{"value":"DISPLAY:"}}},
  {"mark":{"type":"text","fontWeight":"bold","fontSize":3.8,"fill":"#111111"},"encoding":{"x":{"datum":277.5,"type":"quantitative"},"y":{"datum":116.4,"type":"quantitative"},"text":{"value":"Wind Speed"}}},
  {"mark":{"type":"text"},"encoding":{"x":{"datum":277.5,"type":"quantitative"},"y":{"datum":124.7,"type":"quantitative"},"text":{"value":"UNIT:"}}},
  {"mark":{"type":"text","fontWeight":"bold","fontSize":3.8,"fill":"#111111"},"encoding":{"x":{"datum":277.5,"type":"quantitative"},"y":{"datum":129,"type":"quantitative"},"text":{"value":"m/s"}}},
  {"mark":{"type":"text"},"encoding":{"x":{"datum":277.5,"type":"quantitative"},"y":{"datum":138.7,"type":"quantitative"},"text":{"value":"CALM WINDS:"}}},
  {"mark":{"type":"text","fontWeight":"bold","fontSize":3.8,"fill":"#111111"},"encoding":{"x":{"datum":277.5,"type":"quantitative"},"y":{"datum":142.7,"type":"quantitative"},"text":{"field":"cw"}}},
  {"mark":{"type":"text"},"encoding":{"x":{"datum":277.5,"type":"quantitative"},"y":{"datum":150.3,"type":"quantitative"},"text":{"value":"AVG. WIND SPEED:"}}},
  {"mark":{"type":"text","fontWeight":"bold","fontSize":3.8,"fill":"#111111"},"encoding":{"x":{"datum":277.5,"type":"quantitative"},"y":{"datum":154.7,"type":"quantitative"},"text":{"field":"av"}}},
  {"mark":{"type":"text"},"encoding":{"x":{"datum":277.5,"type":"quantitative"},"y":{"datum":163,"type":"quantitative"},"text":{"value":"DATE:"}}},
  {"mark":{"type":"text","fontWeight":"bold","fontSize":3.8,"fill":"#111111"},"encoding":{"x":{"datum":277.5,"type":"quantitative"},"y":{"datum":167.7,"type":"quantitative"},"text":{"field":"dt"}}},
  {"mark":{"type":"text"},"encoding":{"x":{"datum":277.5,"type":"quantitative"},"y":{"datum":177,"type":"quantitative"},"text":{"value":"MODELER:"}}},
  {"mark":{"type":"text"},"encoding":{"x":{"datum":277.5,"type":"quantitative"},"y":{"datum":193.7,"type":"quantitative"},"text":{"value":"COMPANY NAME:"}}},
  {"mark":{"type":"text","fontWeight":"bold","fontSize":3.8,"fill":"#111111"},"encoding":{"x":{"datum":277.5,"type":"quantitative"},"y":{"datum":202.7,"type":"quantitative"},"text":{"value":"Instituto Nacional de Ecologia"}}},
  {"mark":{"type":"text"},"encoding":{"x":{"datum":277.5,"type":"quantitative"},"y":{"datum":217.7,"type":"quantitative"},"text":{"value":"PROJECT/PLOT NO.:"}}},
  {"mark":{"type":"text","fontSize":2.2},"encoding":{"x":{"datum":9,"type":"quantitative"},"y":{"datum":263.5,"type":"quantitative"},"text":{"value":"WRPLOT View - Lakes Environmental Software"}}},
  {"mark":{"type":"text","font":"Liberation Serif","fontSize":27,"fill":"#000000","align":"center","baseline":"alphabetic","fontWeight":"normal"},"encoding":{"x":{"datum":148,"type":"quantitative"},"y":{"datum":32,"type":"quantitative"},"text":{"field":"t"}}}
 ]},
{"transform":[{"filter":"datum.k=='p'"},{"flatten":["v","c"]},{"stack":"v","groupby":["m","d"],"sort":[{"field":"c","order":"ascending"}],"as":["r0","r1"]}],
 "mark":{"type":"arc","thetaOffset":-0.08,"theta2Offset":0.08,"stroke":"#000000","strokeWidth":0.8},
 "encoding":{
   "x":{"datum":141,"type":"quantitative"},"y":{"datum":155,"type":"quantitative"},
   "theta":{"field":"d","type":"quantitative","stack":null,"scale":{"type":"linear","domain":[0,360],"range":[0,6.283185],"zero":true}},
   "theta2":{"field":"d"},
   "radius":{"field":"r1","type":"quantitative","stack":null,"scale":{"type":"linear","domain":[0,25],"range":[0,107],"zero":true}},
   "radius2":{"field":"r0"},
   "color":{"field":"c","type":"nominal","legend":null,"scale":{"domain":[1,2,3,4,5,6],"range":["#000000","#ffff00","#ff0000","#0000ff","#008000","#00ffff"]}}
 }},
{"transform":[{"filter":"datum.k=='i'"}],
 "mark":{"type":"point","shape":"circle","filled":true,"fill":"#ffffff","stroke":"#000000","strokeWidth":1,"size":40,"opacity":1},
 "encoding":{"x":{"datum":141,"type":"quantitative"},"y":{"datum":155,"type":"quantitative"}}}
]},
"config":{
 "view":{"stroke":null},
 "axis":{"disable":true},
 "legend":{"disable":true},
 "text":{"font":"Liberation Sans","fontSize":2.7,"fill":"#555555","align":"left","baseline":"middle"},
 "rule":{"stroke":"#1a1a1a","strokeWidth":1.4}
}
}
